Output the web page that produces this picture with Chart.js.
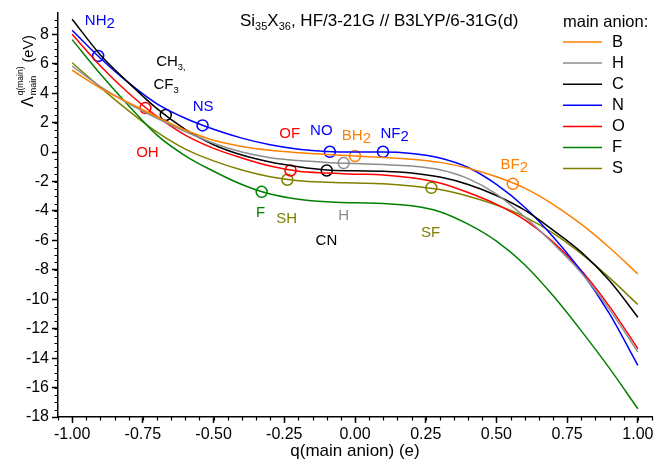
<!DOCTYPE html>
<html>
<head>
<meta charset="utf-8">
<script src="https://cdn.jsdelivr.net/npm/chart.js@4.4.1/dist/chart.umd.min.js"></script>
<style>
  html, body { margin: 0; padding: 0; background: #fff; }
</style>
</head>
<body>
<canvas id="lambdaChart" width="671" height="459"></canvas>
<script>
// charge of the main anion (e)
const charges = [-1.0, -0.9, -0.8, -0.7, -0.6, -0.5, -0.4, -0.3, -0.2, -0.1, 0.0,
                 0.1, 0.2, 0.3, 0.4, 0.5, 0.6, 0.7, 0.8, 0.9, 1.0];

// Lambda for each main anion (eV)
const lambdaB = [5.56, 4.35, 3.35, 2.4, 1.5, 0.8, 0.38, 0.12, -0.04, -0.16, -0.27,
                 -0.36, -0.48, -0.7, -1.1, -1.68, -2.45, -3.55, -4.9, -6.5, -8.28];
const lambdaH = [5.85, 4.45, 3.3, 2.3, 1.4, 0.6, 0.0, -0.38, -0.58, -0.7, -0.78,
                 -0.85, -0.95, -1.2, -1.8, -2.85, -4.4, -6.2, -8.2, -10.7, -13.58];
const lambdaC = [9.03, 6.6, 4.7, 2.95, 1.55, 0.5, -0.2, -0.68, -1.0, -1.22, -1.27,
                 -1.3, -1.42, -1.7, -2.2, -2.95, -3.95, -5.3, -6.8, -8.75, -11.22];
const lambdaN = [8.28, 6.38, 4.7, 3.28, 2.3, 1.55, 0.95, 0.5, 0.2, 0.04, 0.0,
                 0.0, -0.1, -0.4, -1.05, -2.2, -3.75, -5.75, -8.1, -11.0, -14.49];
const lambdaO = [8.0, 5.85, 4.0, 2.42, 1.15, 0.25, -0.4, -0.95, -1.3, -1.42, -1.5,
                 -1.55, -1.75, -2.1, -2.75, -3.55, -4.6, -6.1, -8.05, -10.5, -13.36];
const lambdaF = [7.64, 5.3, 3.15, 1.15, -0.25, -1.3, -2.2, -2.85, -3.2, -3.38, -3.45,
                 -3.5, -3.65, -4.05, -4.9, -6.05, -7.65, -9.75, -12.15, -14.7, -17.44];
const lambdaS = [6.07, 4.4, 2.8, 1.35, 0.2, -0.6, -1.22, -1.68, -1.95, -2.05, -2.1,
                 -2.15, -2.3, -2.55, -3.0, -3.6, -4.4, -5.5, -6.9, -8.55, -10.36];

const anionNames = ['B', 'H', 'C', 'N', 'O', 'F', 'S'];
const anionColors = ['#FF8000', '#8C8C8C', '#000000', '#0000FF', '#FF0000', '#008000', '#808000'];
const anionValues = [lambdaB, lambdaH, lambdaC, lambdaN, lambdaO, lambdaF, lambdaS];

// individual systems sitting on the curves
const pointSeries = ['N', 'O', 'C', 'N', 'F', 'S', 'O', 'C', 'N', 'H', 'B', 'N', 'S', 'B'];
const pointCharges = [-0.908, -0.741, -0.669, -0.539, -0.330, -0.239, -0.228, -0.100, -0.089, -0.040, 0.000, 0.099, 0.270, 0.558];
const pointLambda = [6.53, 2.99, 2.52, 1.81, -2.70, -1.88, -1.25, -1.25, 0.02, -0.75, -0.27, 0.02, -2.43, -2.16];

// their names ("~" = lowered digit, "_" = small subscript)
const tagText = ['NH~2', 'CH_3,', 'CF_3', 'NS', 'OF', 'NO', 'BH~2', 'NF~2', 'BF~2', 'OH', 'F', 'SH', 'H', 'CN', 'SF'];
const tagSeries = ['N', 'C', 'C', 'N', 'O', 'N', 'B', 'N', 'B', 'O', 'F', 'S', 'H', 'C', 'S'];
const tagCharge = [-0.902, -0.651, -0.668, -0.537, -0.231, -0.119, 0.005, 0.140, 0.563, -0.734, -0.334, -0.242, -0.040, -0.101, 0.267];
const tagLambda = [8.91, 6.12, 4.56, 3.06, 1.25, 1.43, 1.09, 1.25, -0.84, -0.05, -4.13, -4.51, -4.35, -6.01, -5.49];

const qTicks = [-1.0, -0.75, -0.5, -0.25, 0.0, 0.25, 0.5, 0.75, 1.0];
const lambdaTicks = [-18, -16, -14, -12, -10, -8, -6, -4, -2, 0, 2, 4, 6, 8];

const FONT = "'Liberation Sans', Arial, sans-serif";
const colorOf = name => anionColors[anionNames.indexOf(name)];

const datasets = anionNames.map((name, k) => ({
  label: name,
  data: charges.map((q, i) => ({ x: q, y: anionValues[k][i] })),
  borderColor: anionColors[k],
  borderWidth: 1.5,
  pointRadius: 0,
  fill: false,
  cubicInterpolationMode: 'monotone'
}));

datasets.push({
  label: 'systems',
  type: 'scatter',
  data: pointCharges.map((q, i) => ({ x: q, y: pointLambda[i] })),
  pointStyle: 'circle',
  pointRadius: 5.5,
  pointBorderWidth: 1.5,
  pointBackgroundColor: 'rgba(0,0,0,0)',
  pointBorderColor: pointSeries.map(colorOf)
});

function drawRich(ctx, text, cx, cy, size, color) {
  let parts;
  if (text.includes('~')) {
    const [a, b] = text.split('~');
    parts = [{ t: a, s: size, dy: 0 }, { t: b, s: size, dy: size * 0.22 }];
  } else if (text.includes('_')) {
    const [a, b] = text.split('_');
    parts = [{ t: a, s: size, dy: 0 }, { t: b, s: size * 0.62, dy: size * 0.38 }];
  } else {
    parts = [{ t: text, s: size, dy: 0 }];
  }
  let total = 0;
  parts.forEach(p => { ctx.font = p.s + 'px ' + FONT; p.w = ctx.measureText(p.t).width; total += p.w; });
  let x = cx - total / 2;
  ctx.fillStyle = color;
  ctx.textBaseline = 'middle';
  ctx.textAlign = 'left';
  parts.forEach(p => {
    ctx.font = p.s + 'px ' + FONT;
    ctx.fillText(p.t, x, cy + p.dy);
    x += p.w;
  });
}

const decorations = {
  id: 'decorations',
  afterDraw(chart) {
    const ctx = chart.ctx;
    const xs = chart.scales.x, ys = chart.scales.y;
    const area = chart.chartArea;
    ctx.save();

    // minor ticks
    ctx.strokeStyle = '#000';
    ctx.lineWidth = 1.2;
    ctx.beginPath();
    for (let q = -1.05; q <= 1.051; q += 0.05) {
      const px = Math.round(xs.getPixelForValue(q)) + 0.5;
      ctx.moveTo(px, area.bottom);
      ctx.lineTo(px, area.bottom + 3.5);
    }
    for (let v = -18; v <= 9.4; v += 0.5) {
      const py = Math.round(ys.getPixelForValue(v)) + 0.5;
      ctx.moveTo(area.left, py);
      ctx.lineTo(area.left - 3.5, py);
    }
    ctx.stroke();

    // system names
    tagText.forEach((t, i) => {
      drawRich(ctx, t, xs.getPixelForValue(tagCharge[i]), ys.getPixelForValue(tagLambda[i]), 15, colorOf(tagSeries[i]));
    });

    // method title
    ctx.fillStyle = '#000';
    ctx.textBaseline = 'alphabetic';
    ctx.textAlign = 'left';
    const runs = [['Si', 17, 0], ['35', 11, 4], ['X', 17, 0], ['36', 11, 4], [', HF/3-21G // B3LYP/6-31G(d)', 17, 0]];
    let tx = 240;
    runs.forEach(([t, s, dy]) => {
      ctx.font = s + 'px ' + FONT;
      ctx.fillText(t, tx, 26 + dy);
      tx += ctx.measureText(t).width;
    });

    // legend
    ctx.font = '16.5px ' + FONT;
    ctx.textBaseline = 'middle';
    ctx.fillText('main anion:', 563, 22);
    anionNames.forEach((name, k) => {
      const ly = 42 + k * 21.1;
      ctx.strokeStyle = anionColors[k];
      ctx.lineWidth = 1.5;
      ctx.beginPath();
      ctx.moveTo(563, ly);
      ctx.lineTo(602, ly);
      ctx.stroke();
      ctx.fillStyle = '#000';
      ctx.fillText(name, 612, ly);
    });

    // axis titles
    ctx.font = '17px ' + FONT;
    ctx.textAlign = 'center';
    ctx.fillText('q(main anion) (e)', 355, 451);

    ctx.translate(33, 107);
    ctx.rotate(-Math.PI / 2);
    ctx.textAlign = 'left';
    ctx.textBaseline = 'alphabetic';
    ctx.font = '16px ' + FONT;
    ctx.fillText('\u039B', 0, 0);
    const lw = ctx.measureText('\u039B').width + 1;
    ctx.font = '8.5px ' + FONT;
    ctx.fillText('q(main)', lw, -10);
    const supW = ctx.measureText('q(main)').width;
    ctx.font = '9px ' + FONT;
    ctx.fillText('main', lw, 3);
    const subW = ctx.measureText('main').width;
    ctx.font = '14.5px ' + FONT;
    ctx.fillText(' (eV)', lw + Math.max(supW, subW), 0);
    ctx.restore();
  }
};

new Chart(document.getElementById('lambdaChart'), {
  type: 'line',
  data: { datasets },
  options: {
    responsive: false,
    animation: false,
    devicePixelRatio: 1,
    layout: { padding: { top: 13, right: 19, left: 0, bottom: 0 } },
    plugins: {
      legend: { display: false },
      tooltip: { enabled: false },
      title: { display: false }
    },
    scales: {
      x: {
        type: 'linear',
        min: -1.05,
        max: 1.05,
        afterBuildTicks: s => { s.ticks = qTicks.map(v => ({ value: v })); },
        afterFit: s => { s.height = 42; },
        ticks: {
          callback: v => v.toFixed(2),
          color: '#000',
          font: { family: FONT, size: 16 },
          padding: 2,
          maxRotation: 0,
          autoSkip: false
        },
        grid: { drawOnChartArea: false, drawTicks: true, tickLength: 6, tickWidth: 1.5, tickColor: '#000' },
        border: { display: true, color: '#000', width: 1.5 }
      },
      y: {
        type: 'linear',
        min: -18,
        max: 9.45,
        afterBuildTicks: s => { s.ticks = lambdaTicks.map(v => ({ value: v })); },
        afterFit: s => { s.width = 58; },
        ticks: {
          color: '#000',
          font: { family: FONT, size: 16 },
          padding: 3,
          autoSkip: false
        },
        grid: { drawOnChartArea: false, drawTicks: true, tickLength: 6, tickWidth: 1.5, tickColor: '#000' },
        border: { display: true, color: '#000', width: 1.5 }
      }
    }
  },
  plugins: [decorations]
});
</script>
</body>
</html>
